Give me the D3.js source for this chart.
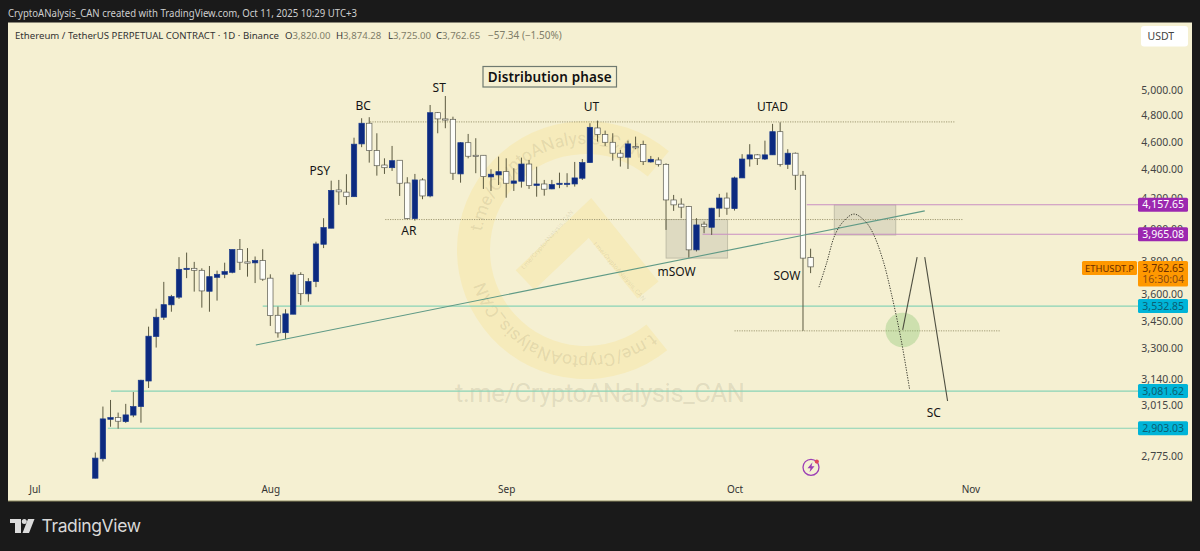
<!DOCTYPE html>
<html><head><meta charset="utf-8">
<script src="https://cdn.jsdelivr.net/npm/d3@7"></script>
<style>html,body{margin:0;padding:0;background:#1a1a1a}svg{display:block}</style>
</head><body><svg id="c" width="1200" height="551"></svg>
<script>
// Daily candles, first one = 9 Jul 2025 (day index 0), last one = 11 Oct 2025
const opens=[2679,2764,2945,2953,2934,2965,3006,3132,3364,3470,3540,3584,3748,3754,3742,3618,3700,3718,3730,3869,3793,3787,3801,3695,3481,3385,3487,3716,3603,3675,3902,4004,4258,4243,4212,4585,4740,4536,4432,4413,4466,4306,4066,4327,4217,4821,4773,4770,4369,4594,4502,4502,4348,4362,4385,4304,4318,4439,4289,4299,4265,4297,4297,4299,4339,4449,4704,4656,4597,4517,4488,4565,4580,4454,4468,4437,4190,4162,4146,3867,4030,4010,4135,4203,4132,4341,4475,4505,4475,4505,4676,4437,4517,4360,3820];
const highs=[2792,3006,3038,2977,3019,3077,3138,3418,3518,3673,3597,3822,3850,3793,3754,3768,3740,3788,3869,3935,3878,3826,3871,3718,3530,3515,3730,3730,3695,3918,4069,4322,4327,4367,4631,4778,4786,4664,4480,4570,4466,4346,4369,4339,4881,4826,4952,4790,4599,4659,4627,4502,4402,4492,4480,4409,4485,4468,4420,4327,4327,4378,4374,4454,4475,4740,4760,4684,4664,4541,4609,4639,4609,4497,4487,4444,4224,4201,4150,4069,4047,4137,4231,4240,4350,4510,4583,4510,4609,4735,4747,4546,4522,4390,3874.28];
const lows=[2678,2752,2910,2901,2928,2955,2929,3097,3305,3455,3501,3574,3695,3616,3524,3501,3564,3695,3724,3744,3704,3666,3679,3422,3358,3350,3487,3538,3558,3642,3878,4004,4157,4157,4210,4561,4449,4357,4369,4390,4217,4062,4053,4195,4208,4664,4702,4327,4308,4480,4374,4265,4251,4292,4205,4251,4274,4265,4212,4219,4263,4270,4277,4281,4327,4449,4602,4570,4463,4421,4404,4546,4432,4449,4421,3993,4117,4069,3819,3857,3972,3961,4076,4091,4119,4341,4421,4432,4468,4505,4421,4404,4258,3395,3725];
const closes=[2767,2947,2953,2936,2966,3006,3136,3366,3470,3541,3587,3748,3754,3742,3620,3704,3718,3734,3869,3791,3785,3801,3689,3479,3384,3489,3714,3604,3675,3904,4008,4255,4245,4212,4583,4740,4536,4427,4413,4463,4304,4066,4327,4217,4821,4773,4765,4374,4594,4495,4497,4350,4367,4385,4304,4320,4439,4288,4299,4263,4295,4304,4304,4341,4449,4709,4656,4597,4517,4488,4585,4561,4456,4473,4437,4190,4157,4142,3867,4025,4014,4135,4203,4135,4341,4475,4505,4478,4505,4676,4437,4517,4360,3816,3762.65];

const priceTicks=[5000,4800,4600,4400,4200,4000,3800,3600,3450,3300,3140,3015,2775];
const monthLabels=["Jul","Aug","Sep","Oct","Nov"];
const monthDays=[-8,23,54,84,115];

const tealLevels=[3532.85,3081.62,2903.03];
const tealStarts=[22,2.06,1.65];
const purpleLevels=[4157.65,3965.08];
const purpleStarts=[93.5,79.8];
const dottedLevels=[4750,4060,3395];
const dottedStarts=[36.1,38.1,84];
const dottedEnds=[113,114,118.9];

const trendLine=[[21.1,3319],[109,4117]];
const boxes=[[75,83.1,4060,3816],[97.1,105.2,4157,3960]];
const dottedCurve=[[95.1,3642],[96.1,3785],[97.2,3961],[98.3,4047],[99.7,4096],[101.2,4047],[102.2,3972],[103.5,3805],[104.6,3607],[105.9,3346],[107,3093]];
const solidUp=[[106.1,3400],[108,3822]];
const solidDown=[[109,3822],[112,3033]];
const circlePoint=[106.1,3400];

const waveLabels=["BC","ST","UT","UTAD","PSY","AR","mSOW","SOW","SC"];
const waveDays=[35.2,45.2,65.2,89,29.5,41.2,76.4,90.9,110.2];
const wavePrices=[4842,4984,4834,4834,4360,3960,3707,3685,2956];

const priceTags=[["4,157.65",4157.65,"#9c27b0","#fff"],["3,965.08",3965.08,"#9c27b0","#fff"],["3,532.85",3532.85,"#00b4d8","#0b5f73"],["3,081.62",3081.62,"#00b4d8","#0b5f73"],["2,903.03",2903.03,"#00b4d8","#0b5f73"]];

const svg=d3.select("#c");
const BG="#f5f0d2";
const sans="'Noto Sans','Open Sans',sans-serif";
const x=d3.scaleLinear().domain([0,94]).range([95.3,810.6]);
const y=d3.scaleLog().domain([5000,2775]).range([90,456.3]);

// frame
svg.append("rect").attr("width",1200).attr("height",551).attr("fill","#1a1a1a");
svg.append("rect").attr("x",8).attr("y",22.5).attr("width",1184).attr("height",478.5).attr("fill",BG);
svg.append("line").attr("x1",8).attr("x2",1192).attr("y1",501).attr("y2",501).attr("stroke","#8f8c62");

svg.append("text").attr("x",8).attr("y",17).attr("fill","#cfcfcf").attr("font-family",sans).attr("font-size",10.4)
 .attr("textLength",349).attr("lengthAdjust","spacingAndGlyphs")
 .text("CryptoANalysis_CAN created with TradingView.com, Oct 11, 2025 10:29 UTC+3");

// watermark
const wm=svg.append("g").attr("transform","translate(586,250)");
const deg=Math.PI/180, ringColor="#f6ebbb";
wm.append("path").attr("fill",ringColor).attr("d",d3.arc()({innerRadius:96,outerRadius:129,startAngle:-219*deg,endAngle:40*deg,cornerRadius:16}));
wm.append("path").attr("fill","none").attr("stroke",ringColor).attr("stroke-width",27).attr("stroke-linejoin","miter")
  .attr("d",d3.line()([[-61,30],[4,-32],[62,40]]));
const defs=svg.append("defs");
function arcPath(id,a0,a1,r){const p=d3.path();p.arc(0,0,r,(a0-90)*deg,(a1-90)*deg,false);defs.append("path").attr("id",id).attr("d",p.toString());}
arcPath("wmTop",-80,60,106);arcPath("wmBot",142,280,106);
const wmFill="rgba(110,105,70,.15)";
[["wmTop"],["wmBot"]].forEach(([id])=>{wm.append("text").attr("font-family","Roboto,sans-serif").attr("font-size",17.5).attr("fill",wmFill)
  .append("textPath").attr("href","#"+id).text("t.me/CryptoANalysis_CAN");});
wm.append("text").attr("transform","translate(-62,20) rotate(-49)").attr("font-family","Roboto,sans-serif").attr("font-size",6.5).attr("fill",wmFill).text("t.me/CryptoANalysis_CAN");
wm.append("text").attr("transform","translate(7,-6) rotate(49)").attr("font-family","Roboto,sans-serif").attr("font-size",6.5).attr("fill",wmFill).text("t.me/CryptoANalysis_CAN");
svg.append("text").attr("x",455).attr("y",402).attr("font-family","Roboto,sans-serif").attr("font-size",25.5).attr("fill","rgba(95,95,70,.15)")
 .attr("textLength",290).text("t.me/CryptoANalysis_CAN");

// boxes
svg.append("g").selectAll("rect").data(boxes).join("rect")
 .attr("x",d=>x(d[0])).attr("width",d=>x(d[1])-x(d[0])).attr("y",d=>y(d[2])).attr("height",d=>y(d[3])-y(d[2]))
 .attr("fill","rgba(130,130,125,.2)").attr("stroke","rgba(130,130,115,.45)").attr("stroke-width",.8);

// levels
const levels=svg.append("g");
levels.selectAll(".d").data(dottedLevels).join("line").attr("class","d")
 .attr("x1",(d,i)=>x(dottedStarts[i])).attr("x2",(d,i)=>x(dottedEnds[i])).attr("y1",d=>y(d)).attr("y2",d=>y(d))
 .attr("stroke","#a09a74").attr("stroke-width",1).attr("stroke-dasharray","1.2,1.2");
levels.selectAll(".t").data(tealLevels).join("line").attr("class","t")
 .attr("x1",(d,i)=>x(tealStarts[i])).attr("x2",1138).attr("y1",d=>y(d)).attr("y2",d=>y(d))
 .attr("stroke","#88d3b6").attr("stroke-width",1.1);
levels.selectAll(".p").data(purpleLevels).join("line").attr("class","p")
 .attr("x1",(d,i)=>x(purpleStarts[i])).attr("x2",1138).attr("y1",d=>y(d)).attr("y2",d=>y(d))
 .attr("stroke","#c88fc2").attr("stroke-width",1.1);

// candles
const idx=d3.range(opens.length);
const c=svg.append("g");
c.selectAll(".w").data(idx).join("line").attr("class","w")
 .attr("x1",i=>x(i)).attr("x2",i=>x(i)).attr("y1",i=>y(highs[i])).attr("y2",i=>y(lows[i]))
 .attr("stroke","#5c5a40").attr("stroke-width",1);
c.selectAll(".b").data(idx).join("rect").attr("class","b")
 .attr("x",i=>x(i)-2.7).attr("width",5.4)
 .attr("y",i=>y(Math.max(opens[i],closes[i])))
 .attr("height",i=>Math.max(1.2,Math.abs(y(opens[i])-y(closes[i]))))
 .attr("fill",i=>closes[i]>opens[i]?"#0c2a80":"#fdfdf8")
 .attr("stroke",i=>closes[i]>opens[i]?"#1a3a8c":"#5a5a50").attr("stroke-width",.7);

// trend + drawn path
const ln=d3.line().x(d=>x(d[0])).y(d=>y(d[1]));
svg.append("path").attr("d",ln(trendLine)).attr("fill","none").attr("stroke","#5f9a86").attr("stroke-width",1.1);
svg.append("circle").attr("cx",x(circlePoint[0])).attr("cy",y(circlePoint[1])).attr("r",17.3).attr("fill","rgba(120,190,100,.32)");
svg.append("path").attr("d",ln.curve(d3.curveCatmullRom)(dottedCurve)).attr("fill","none").attr("stroke","#3c3c30").attr("stroke-width",1).attr("stroke-dasharray","1.3,1.3");
ln.curve(d3.curveLinear);
[solidUp,solidDown].forEach(s=>svg.append("path").attr("d",ln(s)).attr("fill","none").attr("stroke","#4e4e40").attr("stroke-width",1.1));

// title box
svg.append("rect").attr("x",483).attr("y",66.5).attr("width",133.5).attr("height",20.5).attr("fill",BG).attr("stroke","#6f7a70").attr("stroke-width",1.2);
svg.append("text").attr("x",549.7).attr("y",81.5).attr("text-anchor","middle").attr("font-family",sans).attr("font-size",13.5).attr("font-weight",600).attr("fill","#111").attr("textLength",124).text("Distribution phase");

// wave labels
svg.append("g").selectAll("text").data(waveLabels).join("text")
 .attr("x",(d,i)=>x(waveDays[i])).attr("y",(d,i)=>y(wavePrices[i])).attr("text-anchor","middle")
 .attr("font-family",sans).attr("font-size",12).attr("fill","#151515").text(d=>d);

// legend
const lg=svg.append("g").attr("font-family",sans).attr("font-size",10);
lg.append("text").attr("x",15).attr("y",38.5).attr("font-size",9.1).attr("fill","#333").attr("textLength",264).attr("lengthAdjust","spacingAndGlyphs").text("Ethereum / TetherUS PERPETUAL CONTRACT · 1D · Binance");
const legendKeys=["O","H","L","C"], legendVals=["3,820.00","3,874.28","3,725.00","3,762.65"], legendX=[285,336,388,436];
legendKeys.forEach((k,i)=>{const t=lg.append("text").attr("x",legendX[i]).attr("y",38.5).attr("font-size",9.6).attr("fill","#333").text(k);
 t.append("tspan").attr("fill","#7f7d68").text(legendVals[i]);});
lg.append("text").attr("x",488).attr("y",38.5).attr("fill","#7f7d68").text("−57.34 (−1.50%)");

// axes
const ya=svg.append("g").attr("transform","translate(1183,0)")
 .call(d3.axisLeft(y).tickValues(priceTicks).tickSize(0).tickPadding(0).tickFormat(d3.format(",.2f")));
ya.select(".domain").remove();
ya.selectAll("text").attr("font-family",sans).attr("font-size",10.5).attr("fill","#444");
const xa=svg.append("g").attr("transform","translate(0,486)")
 .call(d3.axisBottom(x).tickValues(monthDays).tickSize(0).tickPadding(0).tickFormat((d,i)=>monthLabels[i]));
xa.select(".domain").remove();
xa.selectAll("text").attr("font-family",sans).attr("font-size",10).attr("fill","#333");

// price tags
const tg=svg.append("g").attr("font-family",sans).attr("font-size",10.5);
priceTags.forEach(([t,p,bg,fg])=>{const yy=y(p);
 tg.append("rect").attr("x",1138).attr("y",yy-7).attr("width",50).attr("height",14).attr("rx",1.5).attr("fill",bg);
 tg.append("text").attr("x",1184).attr("y",yy+3.7).attr("text-anchor","end").attr("fill",fg).text(t);});
const last=closes[closes.length-1], ly=y(last);
tg.append("rect").attr("x",1138).attr("y",ly-6).attr("width",50).attr("height",25.5).attr("rx",1.5).attr("fill","#ff9800");
tg.append("rect").attr("x",1082).attr("y",ly-6).attr("width",55).attr("height",14).attr("rx",1.5).attr("fill","#ff9800");
tg.append("text").attr("x",1109.5).attr("y",ly+4.7).attr("text-anchor","middle").attr("font-size",9.4).attr("fill","#6b2f00").text("ETHUSDT.P");
tg.append("text").attr("x",1184).attr("y",ly+4.7).attr("text-anchor","end").attr("fill","#6b2f00").text("3,762.65");
tg.append("text").attr("x",1184).attr("y",ly+16.5).attr("text-anchor","end").attr("fill","#8a4a10").text("16:30:04");

// USDT button
svg.append("rect").attr("x",1141).attr("y",26).attr("width",47).attr("height",20.5).attr("rx",3).attr("fill","#fff");
svg.append("text").attr("x",1147.5).attr("y",40).attr("font-family",sans).attr("font-size",10.5).attr("fill","#444").text("USDT");

// lightning icon
const ic=svg.append("g").attr("transform","translate(811,467.3)");
ic.append("circle").attr("r",8).attr("fill","none").attr("stroke","#9c3fb5").attr("stroke-width",1.3);
ic.append("path").attr("d","M1.5,-5 L-3.5,1 L-0.5,1 L-1.5,5 L3.5,-1 L0.5,-1 Z").attr("fill","#9c3fb5");
ic.append("circle").attr("cx",5.8).attr("cy",-5.7).attr("r",2.1).attr("fill","#e0455a");

// footer logo
const fl=svg.append("g").attr("fill","#dcdcdc");
fl.append("path").attr("d","M10,519 H21 V533 H15 V523 H10 Z");
fl.append("circle").attr("cx",24.3).attr("cy",521.6).attr("r",2.5);
fl.append("path").attr("d","M28,519 H34.5 L29,533 H22.5 Z");
svg.append("text").attr("x",41.5).attr("y",532).attr("font-family","Inter,Roboto,sans-serif").attr("font-size",17.5).attr("font-weight",400).attr("fill","#d8d8d8").attr("textLength",99.5).text("TradingView");
</script></body></html>
